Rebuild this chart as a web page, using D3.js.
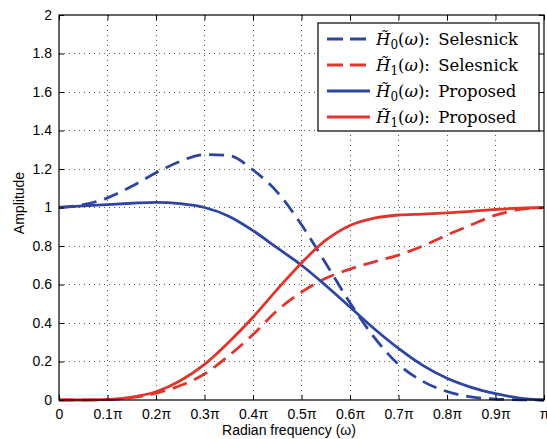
<!DOCTYPE html>
<html>
<head>
<meta charset="utf-8">
<script src="https://cdn.jsdelivr.net/npm/d3@7"></script>
<style>
  body { margin: 0; background: #fff; }
  svg { display: block; }
</style>
</head>
<body>
<svg id="chart" width="547" height="439"></svg>
<script>
// frequency samples, in units of pi
var omega = [0, 0.05, 0.1, 0.15, 0.2, 0.25, 0.3, 0.35, 0.4, 0.45, 0.5,
             0.55, 0.6, 0.65, 0.7, 0.75, 0.8, 0.85, 0.9, 0.95, 1.0];
var h0Selesnick = [1.0, 1.015, 1.05, 1.11, 1.18, 1.24, 1.275, 1.27, 1.195, 1.08, 0.91,
                   0.71, 0.505, 0.325, 0.185, 0.097, 0.044, 0.016, 0.005, 0.001, 0];
var h1Selesnick = [0, 0, 0.002, 0.012, 0.035, 0.075, 0.135, 0.23, 0.34, 0.465, 0.56,
                   0.632, 0.68, 0.718, 0.753, 0.80, 0.857, 0.91, 0.96, 0.99, 1.0];
var h0Proposed = [1.0, 1.008, 1.015, 1.022, 1.027, 1.02, 1.0, 0.955, 0.88, 0.79, 0.70,
                  0.595, 0.483, 0.37, 0.268, 0.18, 0.113, 0.066, 0.033, 0.01, 0];
var h1Proposed = [0, 0, 0.003, 0.015, 0.043, 0.10, 0.185, 0.30, 0.43, 0.575, 0.712,
                  0.83, 0.907, 0.945, 0.961, 0.966, 0.972, 0.98, 0.99, 0.997, 1.0];

var xTicks = [0, 0.1, 0.2, 0.3, 0.4, 0.5, 0.6, 0.7, 0.8, 0.9, 1.0];
var xTickLabels = ["0", "0.1\u03c0", "0.2\u03c0", "0.3\u03c0", "0.4\u03c0", "0.5\u03c0",
                   "0.6\u03c0", "0.7\u03c0", "0.8\u03c0", "0.9\u03c0", "\u03c0"];
var yTicks = [0, 0.2, 0.4, 0.6, 0.8, 1, 1.2, 1.4, 1.6, 1.8, 2];
var yTickLabels = ["0", "0.2", "0.4", "0.6", "0.8", "1", "1.2", "1.4", "1.6", "1.8", "2"];

var seriesNames = ["0", "1", "0", "1"];
var seriesMethods = ["Selesnick", "Selesnick", "Proposed", "Proposed"];

var blue = "#2d45a3", red = "#e3342b";

var series = [
  { values: h0Selesnick, color: blue, dash: "15,8" },
  { values: h1Selesnick, color: red, dash: "15,8" },
  { values: h0Proposed, color: blue, dash: null },
  { values: h1Proposed, color: red, dash: null }
];

var plotLeft = 59, plotRight = 544, plotTop = 15, plotBottom = 400;
var svg = d3.select("#chart");

var x = d3.scaleLinear().domain([0, 1]).range([plotLeft, plotRight]);
var y = d3.scaleLinear().domain([0, 2]).range([plotBottom, plotTop]);

// grid
var grid = svg.append("g");
grid.selectAll("line.gx").data(xTicks.slice(1, -1)).enter().append("line")
    .attr("x1", function(d) { return x(d); }).attr("x2", function(d) { return x(d); })
    .attr("y1", plotTop).attr("y2", plotBottom);
grid.selectAll("line.gy").data(yTicks.slice(1, -1)).enter().append("line")
    .attr("y1", function(d) { return y(d); }).attr("y2", function(d) { return y(d); })
    .attr("x1", plotLeft).attr("x2", plotRight);
grid.selectAll("line")
    .attr("stroke", "#555").attr("stroke-width", 1)
    .attr("stroke-dasharray", "1,4").attr("shape-rendering", "crispEdges");

// curves
var line = d3.line()
    .x(function(d, i) { return x(omega[i]); })
    .y(function(d) { return y(d); })
    .curve(d3.curveMonotoneX);

svg.append("g").selectAll("path").data(series).enter().append("path")
    .attr("d", function(s) { return line(s.values); })
    .attr("fill", "none")
    .attr("stroke", function(s) { return s.color; })
    .attr("stroke-width", 2.8)
    .attr("stroke-dasharray", function(s) { return s.dash; });

// axes (ticks inside, on all four sides)
function styleAxis(g) {
  g.select(".domain").remove();
  g.selectAll(".tick line").attr("stroke", "#000");
  g.selectAll(".tick text").attr("font-family", "Liberation Sans, Arial, sans-serif")
    .attr("font-size", 14).attr("fill", "#000");
}
svg.append("g").attr("transform", "translate(0," + plotBottom + ")")
  .call(d3.axisBottom(x).tickValues(xTicks).tickSize(-5).tickPadding(9)
        .tickFormat(function(d, i) { return xTickLabels[i]; }))
  .call(styleAxis);
svg.append("g").attr("transform", "translate(0," + plotTop + ")")
  .call(d3.axisTop(x).tickValues(xTicks).tickSize(-5).tickFormat(""))
  .call(styleAxis);
svg.append("g").attr("transform", "translate(" + plotLeft + ",0)")
  .call(d3.axisLeft(y).tickValues(yTicks).tickSize(-5).tickPadding(7)
        .tickFormat(function(d, i) { return yTickLabels[i]; }))
  .call(styleAxis);
svg.append("g").attr("transform", "translate(" + plotRight + ",0)")
  .call(d3.axisRight(y).tickValues(yTicks).tickSize(-5).tickFormat(""))
  .call(styleAxis);

svg.append("rect")
    .attr("x", plotLeft).attr("y", plotTop)
    .attr("width", plotRight - plotLeft).attr("height", plotBottom - plotTop)
    .attr("fill", "none").attr("stroke", "#000").attr("stroke-width", 1.2);

// axis labels
svg.append("text")
    .attr("x", 289).attr("y", 435)
    .attr("text-anchor", "middle")
    .attr("font-family", "Liberation Sans, Arial, sans-serif").attr("font-size", 14)
    .text("Radian frequency (\u03c9)");
svg.append("text")
    .attr("transform", "translate(24,203) rotate(-90)")
    .attr("text-anchor", "middle")
    .attr("font-family", "Liberation Sans, Arial, sans-serif").attr("font-size", 14)
    .text("Amplitude");

// legend
var legend = svg.append("g");
legend.append("rect")
    .attr("x", 318).attr("y", 23).attr("width", 221).attr("height", 108)
    .attr("fill", "#fff").attr("stroke", "#000").attr("stroke-width", 1.2);

var rowY = [39, 65, 91, 117];
series.forEach(function(s, i) {
  legend.append("line")
      .attr("x1", 327).attr("x2", 370)
      .attr("y1", rowY[i]).attr("y2", rowY[i])
      .attr("stroke", s.color).attr("stroke-width", 2.8)
      .attr("stroke-dasharray", s.dash ? "16,7" : null);
  var t = legend.append("text")
      .attr("x", 376).attr("y", rowY[i] + 6)
      .attr("font-family", "DejaVu Serif, serif")
      .attr("font-size", 16.5).attr("fill", "#000");
  t.append("tspan").attr("font-style", "italic").text("H\u0303");
  t.append("tspan").attr("font-size", 12).attr("dy", 4).text(seriesNames[i]);
  t.append("tspan").attr("dy", -4).text("(");
  t.append("tspan").attr("font-style", "italic").text("\u03c9");
  t.append("tspan").text("):\u2002" + seriesMethods[i]);
});
</script>
</body>
</html>
